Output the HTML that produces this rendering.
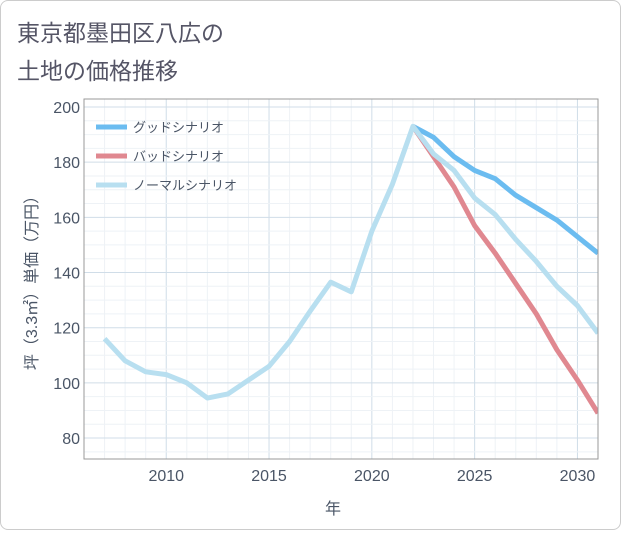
<!DOCTYPE html>
<html><head><meta charset="utf-8">
<style>
body{margin:0;background:#fff;}
#card{position:absolute;left:0;top:0;width:619px;height:528px;border:1px solid #ccc;border-radius:8px;background:#fff;}
svg text{font-family:"Liberation Sans","Noto Sans CJK JP",sans-serif;}
</style></head><body>
<div id="card">
<svg id="chart" width="621" height="530">
<text x="16" y="40" font-size="23" fill="#556">東京都墨田区八広の</text>
<text x="16" y="78" font-size="23" fill="#556">土地の価格推移</text>
<g id="grid"></g><g id="series"></g><g id="axes"></g>
<text x="332" y="513" font-size="16" fill="#4a5566" text-anchor="middle">年</text>
<text transform="translate(36,278) rotate(-90)" font-size="16" fill="#4a5566" text-anchor="middle">坪（3.3㎡）単価（万円）</text>
<g id="legend"></g>
</svg></div>
<script>
const years=[2007,2008,2009,2010,2011,2012,2013,2014,2015,2016,2017,2018,2019,2020,2021,2022,2023,2024,2025,2026,2027,2028,2029,2030,2031];
const normalVals=[116,108,104,103,100,94.5,96,101,106,115,126,136.5,133,155,172,193,183,177,167,161,152,144,135,128,118];
const futureYears=[2022,2023,2024,2025,2026,2027,2028,2029,2030,2031];
const goodVals=[193,189,182,177,174,168,163.5,159,153,147];
const badVals=[193,182,171,157,147,136,125,112,101,89];
const xTicks=[2010,2015,2020,2025,2030];
const yTicks=[80,100,120,140,160,180,200];
const L=83,R=597,T=98,B=458;
const x=v=>L+(v-2006)*(R-L)/25;
const y=v=>B-(v-72.4)*(B-T)/(202.9-72.4);
const NS="http://www.w3.org/2000/svg";
function mk(p,tag,a){const e=document.createElementNS(NS,tag);for(const k in a)e.setAttribute(k,a[k]);p.appendChild(e);return e;}
const grid=document.getElementById('grid'),axes=document.getElementById('axes'),ser=document.getElementById('series'),leg=document.getElementById('legend');
for(let yr=2006;yr<=2031;yr++){const l=mk(grid,'line',{x1:x(yr),x2:x(yr),y1:T,y2:B,stroke:xTicks.includes(yr)?'#d0dde8':'#eef2f6','stroke-width':1});

}
for(let v=75;v<=200;v+=5){const l=mk(grid,'line',{x1:L,x2:R,y1:y(v),y2:y(v),stroke:v%20===0?'#d0dde8':'#eef2f6','stroke-width':1});

}
const fr=mk(axes,'rect',{x:L,y:T,width:R-L,height:B-T,fill:'none',stroke:'#999','stroke-width':1});


xTicks.forEach(t=>{const e=mk(axes,'text',{x:x(t),y:B+22,'font-size':16,fill:'#4a5566','text-anchor':'middle'});e.textContent=t;

});
yTicks.forEach(t=>{const e=mk(axes,'text',{x:L-4,y:y(t)+6,'font-size':16,fill:'#4a5566','text-anchor':'end'});e.textContent=t;

});
function line(xs,vs,c,name){const d=xs.map((v,i)=>(i?'L':'M')+x(v)+','+y(vs[i])).join('');
const p=mk(ser,'path',{d:d,fill:'none',stroke:c,'stroke-width':5,'stroke-linejoin':'round'});

}
const cl=document.createElementNS(NS,'clipPath');cl.id='cp';mk(cl,'rect',{x:L,y:T,width:R-L,height:B-T});document.getElementById('chart').appendChild(cl);
ser.setAttribute('clip-path','url(#cp)');
line(futureYears,goodVals,'#6bbcf0','good-scenario-line');
line(futureYears,badVals,'#e08890','bad-scenario-line');
line(years,normalVals,'#b8dff0','normal-scenario-line');
[['グッドシナリオ','#6bbcf0'],['バッドシナリオ','#e08890'],['ノーマルシナリオ','#b8dff0']].forEach((it,i)=>{
const yy=126+i*29;
const l=mk(leg,'line',{x1:95,x2:126,y1:yy,y2:yy,stroke:it[1],'stroke-width':5});


const t=mk(leg,'text',{x:132,y:yy+5,'font-size':13,fill:'#4a5566'});t.textContent=it[0];

});
</script>
</body></html>
